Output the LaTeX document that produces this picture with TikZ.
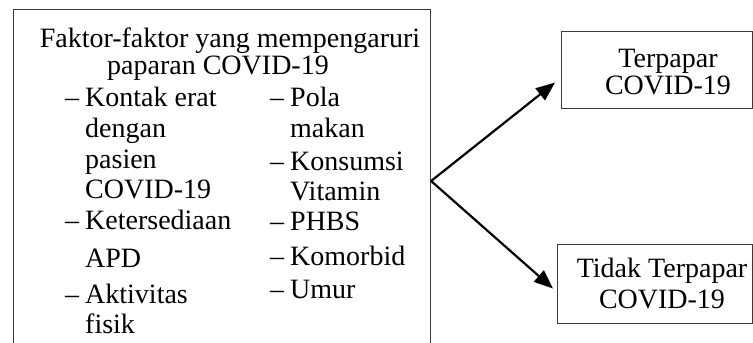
\documentclass[tikz,border=0pt]{standalone}
\usepackage{fontspec}
\setmainfont{Liberation Serif}
\usetikzlibrary{arrows.meta,calc}
\definecolor{boxline}{RGB}{60,60,60}
\tikzset{
  box/.style={draw=boxline, line width=1.1pt, rectangle, inner sep=0pt, anchor=north west},
  txt/.style={inner sep=0pt, anchor=base west, font=\fontsize{28}{28}\selectfont},
  ctxt/.style={inner sep=0pt, anchor=base, font=\fontsize{28}{28}\selectfont},
  arr/.style={line width=2.2pt, -{Triangle[length=19pt,width=15pt]}}
}
\begin{document}
\begin{tikzpicture}[x=1pt,y=-1pt]
\useasboundingbox (0,0) rectangle (753,343);
\clip (0,0) rectangle (753,343);
% left box (open at bottom, continues past the frame)
\node[box, minimum width=417pt, minimum height=380pt] (factors) at (13,9) {};
% titles
\node[ctxt] (title1) at (230,47) {Faktor-faktor yang mempengaruri};
\node[ctxt] (title2) at (218,74) {paparan COVID-19};
% left column
\node[txt] (d1) at (65,106) {–};
\node[txt] (l1a) at (85,106) {Kontak erat};
\node[txt] (l1b) at (85,137) {dengan};
\node[txt] (l1c) at (85,168) {pasien};
\node[txt] (l1d) at (85,198) {COVID-19};
\node[txt] (d2) at (65,229) {–};
\node[txt] (l2a) at (85,229) {Ketersediaan};
\node[txt] (l2b) at (85,267) {APD};
\node[txt] (d3) at (65,303) {–};
\node[txt] (l3a) at (85,303) {Aktivitas};
\node[txt] (l3b) at (85,333) {fisik};
% right column
\node[txt] (d4) at (270,106) {–};
\node[txt] (r1a) at (290,106) {Pola};
\node[txt] (r1b) at (290,137) {makan};
\node[txt] (d5) at (270,170) {–};
\node[txt] (r2a) at (290,170) {Konsumsi};
\node[txt] (r2b) at (290,200) {Vitamin};
\node[txt] (d6) at (270,230) {–};
\node[txt] (r3) at (290,230) {PHBS};
\node[txt] (d7) at (270,265) {–};
\node[txt] (r4) at (290,265) {Komorbid};
\node[txt] (d8) at (270,298) {–};
\node[txt] (r5) at (290,298) {Umur};
% outcome boxes
\node[box, minimum width=191pt, minimum height=77pt] (yes) at (561,31) {};
\node[ctxt] (yes1) at (668,67) {Terpapar};
\node[ctxt] (yes2) at (668,94) {COVID-19};
\node[box, minimum width=195pt, minimum height=79pt] (no) at (557,244) {};
\node[ctxt] (no1) at (662,277) {Tidak Terpapar};
\node[ctxt] (no2) at (662,308) {COVID-19};
% arrows
\coordinate (fork) at (factors.north east |- 0,181);
\coordinate (yestip) at ($(yes.west)+(-6,12.5)$);
\coordinate (notip) at ($(no.west)+(-4,4.5)$);
\draw[arr] (fork) -- (yestip);
\draw[arr] (fork) -- (notip);
\end{tikzpicture}
\end{document}
